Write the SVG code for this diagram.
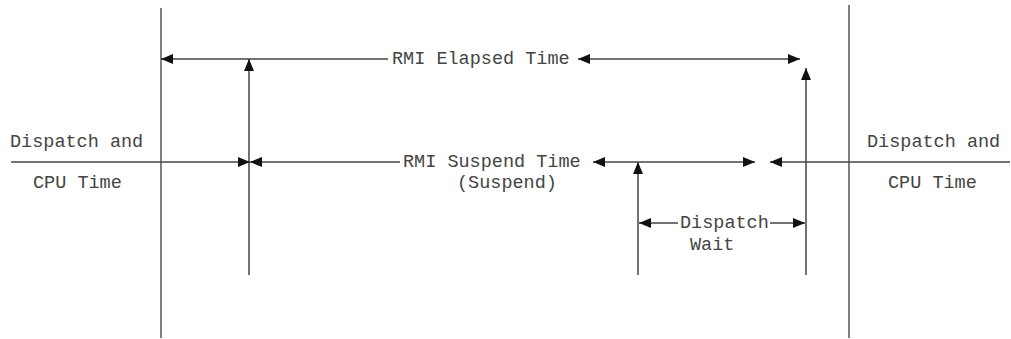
<svg xmlns="http://www.w3.org/2000/svg" width="1011" height="339" viewBox="0 0 1011 339">
<style>
.ln{stroke:#555;stroke-width:1.5;fill:none}
.ar{stroke:#444;stroke-width:1.5;fill:none;marker-end:url(#ah)}
text{font-family:"Liberation Mono","DejaVu Sans Mono",monospace;font-size:18.5px;fill:#444}
</style>
<defs>
<marker id="ah" viewBox="0 0 12 10" refX="12" refY="5" markerWidth="12" markerHeight="10" markerUnits="userSpaceOnUse" orient="auto">
<path d="M0,0 L12,5 L0,10 Z" fill="#111"/>
</marker>
</defs>
<g id="frame">
<line class="ln" x1="161" y1="8" x2="161" y2="338"/>
<line class="ln" x1="849" y1="5" x2="849" y2="338"/>
</g>
<g id="labels-left">
<text x="10" y="147">Dispatch and</text>
<text x="33" y="188">CPU Time</text>
</g>
<g id="labels-right">
<text x="867" y="147">Dispatch and</text>
<text x="888" y="188">CPU Time</text>
</g>
<g id="elapsed">
<text x="392" y="64">RMI Elapsed Time</text>
</g>
<g id="suspend">
<text x="403" y="167">RMI Suspend Time</text>
<text x="457" y="188">(Suspend)</text>
</g>
<g id="dispatch-wait">
<text x="680" y="228">Dispatch</text>
<text x="690" y="250">Wait</text>
</g>
<g id="connectors">
<line class="ar" x1="388" y1="59" x2="161" y2="59"/>
<line class="ar" x1="680" y1="59" x2="578" y2="59"/>
<line class="ar" x1="680" y1="59" x2="800" y2="59"/>
<line class="ar" x1="249" y1="275" x2="249" y2="59"/>
<line class="ar" x1="806" y1="275" x2="806" y2="68"/>
<line class="ar" x1="638" y1="275" x2="638" y2="162"/>
<line class="ar" x1="11" y1="162" x2="250" y2="162"/>
<line class="ar" x1="400" y1="162" x2="250" y2="162"/>
<line class="ar" x1="680" y1="162" x2="593" y2="162"/>
<line class="ar" x1="680" y1="162" x2="755" y2="162"/>
<line class="ar" x1="1010" y1="162" x2="770" y2="162"/>
<line class="ar" x1="678" y1="223" x2="639" y2="223"/>
<line class="ar" x1="770" y1="223" x2="805" y2="223"/>
</g>
</svg>
